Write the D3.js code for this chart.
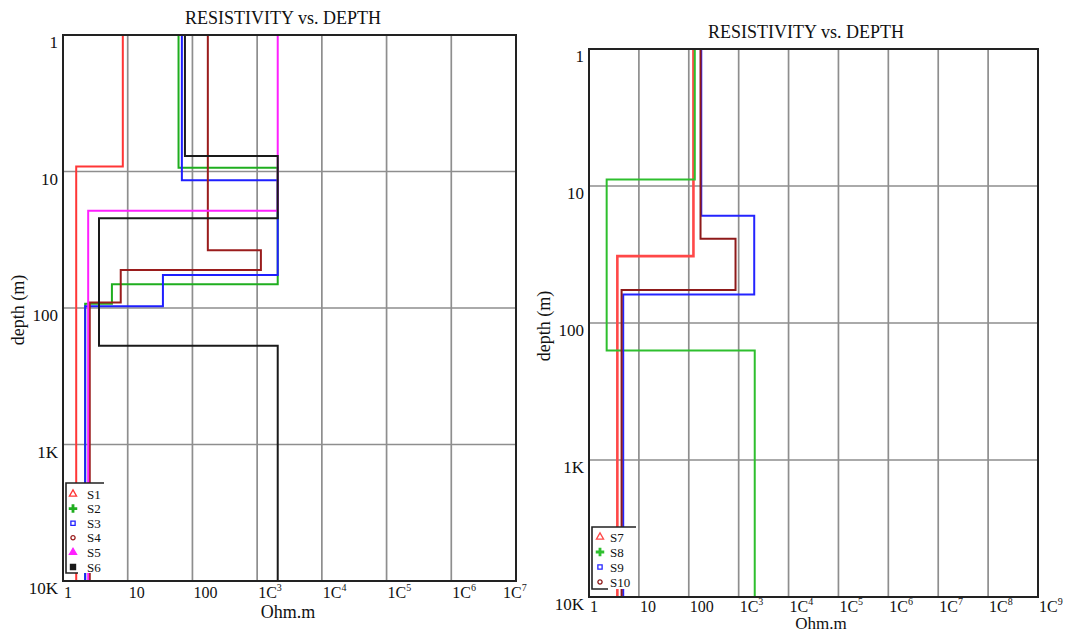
<!DOCTYPE html>
<html>
<head>
<meta charset="utf-8">
<script src="https://cdn.jsdelivr.net/npm/d3@7"></script>
<style>
  body { margin: 0; background: #fff; }
  svg { display: block; }
  text { font-family: "Liberation Serif", "Times New Roman", serif; fill: #111; }
</style>
</head>
<body>
<svg id="chart" width="1067" height="633"></svg>
<script>
// ---- Layered resistivity models (Ohm.m per layer, depth of each layer base in m) ----
// Left panel: soundings S1–S6
const namesLeft = ["S1", "S2", "S3", "S4", "S5", "S6"];
const rhoS1 = [8.4, 1.6];
const depS1 = [9.2];
const rhoS2 = [61, 2080, 5.7, 2.2];
const depS2 = [9.4, 67, 93];
const rhoS3 = [68.7, 2080, 35, 2.2];
const depS3 = [11.6, 57.3, 97];
const rhoS4 = [173, 1143, 7.8, 2.59];
const depS4 = [37.8, 52.7, 91];
const rhoS5 = [2080, 2.45];
const depS5 = [19.4];
const rhoS6 = [76.6, 2080, 3.6, 2080];
const depS6 = [7.7, 22, 189];

// Right panel: soundings S7–S10
const namesRight = ["S7", "S8", "S9", "S10"];
const rhoS7 = [124, 3.7];
const depS7 = [32.5];
const rhoS8 = [132, 2.26, 2100];
const depS8 = [8.95, 159];
const rhoS9 = [178, 2050, 4.85];
const depS9 = [16.5, 62];
const rhoS10 = [172, 865, 4.5];
const depS10 = [24.3, 57.5];

// Axis ticks and labels ("^" marks a superscript exponent)
const xTicksLeft = [1, 10, 100, 1e3, 1e4, 1e5, 1e6, 1e7];
const xLabelsLeft = ["1", "10", "100", "1C^3", "1C^4", "1C^5", "1C^6", "1C^7"];
const xTicksRight = [1, 10, 100, 1e3, 1e4, 1e5, 1e6, 1e7, 1e8, 1e9];
const xLabelsRight = ["1", "10", "100", "1C^3", "1C^4", "1C^5", "1C^6", "1C^7", "1C^8", "1C^9"];
const yTicks = [1, 10, 100, 1000, 10000];
const yLabels = ["1", "10", "100", "1K", "10K"];

const titleText = "RESISTIVITY vs. DEPTH";
const xTitle = "Ohm.m";
const yTitle = "depth (m)";

const svg = d3.select("#chart");

function drawPanel(cfg) {
  const g = svg.append("g");
  const x = d3.scaleLog().domain(cfg.xDomain).range([cfg.left, cfg.right]);
  const y = d3.scaleLog().domain([1, 10000]).range([cfg.top, cfg.bottom]);

  // grid
  g.append("g").selectAll("line.v").data(cfg.xTicks).join("line")
    .attr("x1", d => x(d)).attr("x2", d => x(d))
    .attr("y1", cfg.top).attr("y2", cfg.bottom)
    .attr("stroke", "#8e8e8e").attr("stroke-width", 1.7);
  g.append("g").selectAll("line.h").data(yTicks).join("line")
    .attr("x1", cfg.left).attr("x2", cfg.right)
    .attr("y1", d => y(d)).attr("y2", d => y(d))
    .attr("stroke", "#8e8e8e").attr("stroke-width", 1.7);

  // step curves
  const clipId = "clip" + cfg.id;
  svg.append("clipPath").attr("id", clipId).append("rect")
    .attr("x", cfg.left).attr("y", cfg.top)
    .attr("width", cfg.right - cfg.left).attr("height", cfg.bottom - cfg.top);
  const line = d3.line().x(d => x(d[0])).y(d => y(d[1]));
  const curves = g.append("g").attr("clip-path", `url(#${clipId})`);
  cfg.series.forEach(s => {
    const pts = [];
    s.rho.forEach((r, i) => {
      const top = i === 0 ? 1 : s.dep[i - 1];
      const bot = i < s.dep.length ? s.dep[i] : 10000;
      pts.push([r, top], [r, bot]);
    });
    curves.append("path").attr("d", line(pts))
      .attr("fill", "none").attr("stroke", s.color)
      .attr("stroke-width", s.width || 2).attr("stroke-linejoin", "miter");
  });

  // frame
  g.append("rect").attr("x", cfg.left).attr("y", cfg.top)
    .attr("width", cfg.right - cfg.left).attr("height", cfg.bottom - cfg.top)
    .attr("fill", "none").attr("stroke", "#222").attr("stroke-width", 2);

  // y tick labels, hanging just under each grid line
  g.append("g").selectAll("text").data(yTicks).join("text")
    .attr("x", cfg.left - 5).attr("y", d => y(d) + 13)
    .attr("text-anchor", "end").attr("font-size", 17)
    .text((d, i) => yLabels[i]);

  // x tick labels, starting at each grid line
  const xl = g.append("g").selectAll("text").data(cfg.xTicks).join("text")
    .attr("x", (d, i) => x(d) + 1 + (i === cfg.xTicks.length - 1 ? cfg.lastShift : 0))
    .attr("y", cfg.bottom + cfg.xLabelDy)
    .attr("font-size", 16);
  xl.each(function (d, i) {
    const parts = cfg.xLabels[i].split("^");
    const t = d3.select(this);
    t.append("tspan").text(parts[0]);
    if (parts[1]) {
      t.append("tspan").attr("font-size", 10).attr("dy", -7).text(parts[1]);
    }
  });

  // titles
  g.append("text").attr("x", cfg.titleX).attr("y", cfg.titleY)
    .attr("text-anchor", "middle").attr("font-size", 18).text(titleText);
  g.append("text").attr("x", cfg.xTitleX).attr("y", cfg.xTitleY)
    .attr("text-anchor", "middle").attr("font-size", cfg.xTitleSize).text(xTitle);
  g.append("text")
    .attr("transform", `translate(${cfg.yTitleX},${cfg.yTitleY}) rotate(-90)`)
    .attr("text-anchor", "middle").attr("font-size", 18).text(yTitle);

  // legend
  const L = cfg.legend;
  const lg = g.append("g");
  lg.append("rect").attr("x", L.x).attr("y", L.y)
    .attr("width", L.w).attr("height", L.h).attr("fill", "#fff");
  lg.append("path")
    .attr("d", `M${L.x + L.w},${L.y}H${L.x}V${L.y + L.h}H${L.x + L.bw}`)
    .attr("fill", "none").attr("stroke", "#222").attr("stroke-width", 1.6);
  cfg.series.forEach((s, i) => {
    const cy = L.y + L.first + i * L.step;
    const sym = d3.symbol().type(s.symbol).size(s.size || 22);
    lg.append("path").attr("d", sym())
      .attr("transform", `translate(${L.x + L.mx},${cy})`)
      .attr("fill", s.filled ? s.color : (s.symbol === d3.symbolCross ? s.color : "none"))
      .attr("stroke", s.symbol === d3.symbolCross ? "none" : s.color)
      .attr("stroke-width", 1.3);
    lg.append("text").attr("x", L.x + L.tx).attr("y", cy + 4.5)
      .attr("font-size", 13).text(s.name);
  });
}

drawPanel({
  id: "L",
  left: 63, right: 516, top: 35, bottom: 581,
  xDomain: [1, 1e7], xTicks: xTicksLeft, xLabels: xLabelsLeft, lastShift: -14,
  xLabelDy: 17,
  titleX: 283, titleY: 24,
  xTitleX: 288, xTitleY: 618, xTitleSize: 18,
  yTitleX: 24, yTitleY: 310,
  legend: { x: 66, y: 483, w: 38, h: 90, bw: 12, mx: 7, tx: 21, first: 11, step: 14.6 },
  series: [
    { name: namesLeft[0], rho: rhoS1, dep: depS1, color: "#ff3636", symbol: d3.symbolTriangle },
    { name: namesLeft[1], rho: rhoS2, dep: depS2, color: "#1fae1f", symbol: d3.symbolCross, size: 40 },
    { name: namesLeft[2], rho: rhoS3, dep: depS3, color: "#1f1fff", symbol: d3.symbolSquare, size: 18 },
    { name: namesLeft[3], rho: rhoS4, dep: depS4, color: "#9a1c1c", symbol: d3.symbolCircle, size: 14 },
    { name: namesLeft[4], rho: rhoS5, dep: depS5, color: "#ff20ff", symbol: d3.symbolTriangle, filled: true },
    { name: namesLeft[5], rho: rhoS6, dep: depS6, color: "#1a1a1a", symbol: d3.symbolSquare, filled: true, size: 26 }
  ]
});

drawPanel({
  id: "R",
  left: 589, right: 1038, top: 49, bottom: 597,
  xDomain: [1, 1e9], xTicks: xTicksRight, xLabels: xLabelsRight, lastShift: 0,
  xLabelDy: 15,
  titleX: 806, titleY: 38,
  xTitleX: 821, xTitleY: 629, xTitleSize: 17,
  yTitleX: 550, yTitleY: 326,
  legend: { x: 592, y: 527, w: 44, h: 62, bw: 16, mx: 8, tx: 18, first: 10, step: 15 },
  series: [
    { name: namesRight[0], rho: rhoS7, dep: depS7, color: "#ff4848", symbol: d3.symbolTriangle, width: 2.6 },
    { name: namesRight[1], rho: rhoS8, dep: depS8, color: "#2ebf2e", symbol: d3.symbolCross, size: 40 },
    { name: namesRight[2], rho: rhoS9, dep: depS9, color: "#2424ff", symbol: d3.symbolSquare, size: 18 },
    { name: namesRight[3], rho: rhoS10, dep: depS10, color: "#8e1a1a", symbol: d3.symbolCircle, size: 14 }
  ]
});
</script>
</body>
</html>
